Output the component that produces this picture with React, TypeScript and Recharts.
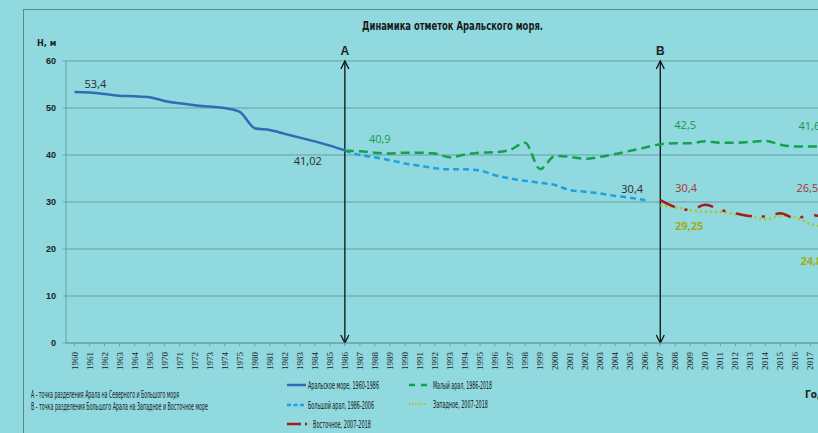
// Aral sea level dynamics

import React from "react";
import {
  LineChart,
  Line,
  XAxis,
  YAxis,
  CartesianGrid,
  ReferenceLine,
  ReferenceDot,
} from "recharts";

const years: string[] = [
  "1960", "1961", "1962", "1963", "1964", "1965",
  "1970", "1971", "1972", "1973", "1974", "1975",
  "1980", "1981", "1982", "1983", "1984", "1985", "1986",
  "1987", "1988", "1989", "1990", "1991", "1992", "1993", "1994", "1995", "1996",
  "1997", "1998", "1999", "2000", "2001", "2002", "2003", "2004", "2005", "2006",
  "2007", "2008", "2009", "2010", "2011", "2012", "2013", "2014", "2015", "2016",
  "2017", "2018",
];

// Аральское море, 1960-1986
const aralSea: number[] = [
  53.4, 53.3, 53.0, 52.6, 52.5, 52.3, 51.5, 51.0, 50.6, 50.3, 50.0, 49.2,
  45.7, 45.3, 44.5, 43.7, 42.9, 42.0, 41.02,
];

// Малый арал, 1986-2018
const smallAral: number[] = [
  40.9, 40.8, 40.5, 40.3, 40.5, 40.5, 40.3, 39.5, 40.1, 40.5, 40.6,
  41.1, 42.6, 37.0, 39.8, 39.6, 39.2, 39.6, 40.2, 40.9, 41.6,
  42.3, 42.5, 42.5, 42.9, 42.6, 42.6, 42.8, 43.0, 42.2, 41.8,
  41.8, 42.0,
];

// Большой арал, 1986-2006
const bigAral: number[] = [
  40.9, 40.0, 39.5, 38.9, 38.2, 37.7, 37.2, 36.95, 36.95, 36.7, 35.7,
  35.0, 34.5, 34.1, 33.6, 32.5, 32.2, 31.8, 31.3, 30.9, 30.4,
];

// Западное, 2007-2018
const westSea: number[] = [29.25, 28.9, 28.3, 27.9, 27.9, 27.4, 27.0, 26.3, 27.1, 26.7, 25.3, 24.8];

// Восточное, 2007-2018
const eastSea: number[] = [30.4, 28.9, 28.3, 29.4, 28.3, 27.6, 27.0, 26.9, 27.6, 26.5, 27.2, 26.8];

const yTicks = [0, 10, 20, 30, 40, 50, 60];

const BG = "#8fd9df";
const GRID = "#6a9ea6";
const C_ARAL = "#2f6cb3";
const C_SMALL = "#15a04c";
const C_BIG = "#1d9fe0";
const C_WEST = "#b7c01c";
const C_EAST = "#a31b1b";
const NARROW = "'Liberation Sans Narrow', 'DejaVu Sans Condensed', 'Liberation Sans', sans-serif";

const withStart = (start: string, vals: number[]) => {
  const i0 = years.indexOf(start);
  return (i: number) => (i >= i0 && i < i0 + vals.length ? vals[i - i0] : null);
};

const getAral = withStart("1960", aralSea);
const getSmall = withStart("1986", smallAral);
const getBig = withStart("1986", bigAral);
const getWest = withStart("2007", westSea);
const getEast = withStart("2007", eastSea);

const tableData = years.map((y, i) => ({
  year: y,
  aral: getAral(i),
  small: getSmall(i),
  big: getBig(i),
  west: getWest(i),
  east: getEast(i),
}));

const YearTick = (props: any) => {
  const { x, y, payload } = props;
  return (
    <text
      transform={`translate(${x + 3},${y + 4}) rotate(-90)`}
      textAnchor="end"
      fontSize={9}
      fontFamily="'Liberation Serif', 'DejaVu Serif', serif"
      fill="#222"
    >
      {payload.value}
    </text>
  );
};

const ArrowMark = (props: any) => {
  const { viewBox, letter } = props;
  if (!viewBox) return null;
  const { x, y, height } = viewBox;
  const b = y + height;
  return (
    <g>
      <polyline points={`${x - 4},${y + 8} ${x},${y} ${x + 4},${y + 8}`} fill="none" stroke="#111" strokeWidth={1.3} />
      <polyline points={`${x - 4},${b - 8} ${x},${b} ${x + 4},${b - 8}`} fill="none" stroke="#111" strokeWidth={1.3} />
      <text x={x} y={y - 6} textAnchor="middle" fontSize={12} fontWeight="bold" fontFamily="'Liberation Sans', sans-serif" fill="#222">
        {letter}
      </text>
    </g>
  );
};

const ValueLabel = (props: any) => {
  const { viewBox, text, dx, dy, color, bold } = props;
  if (!viewBox) return null;
  return (
    <text
      x={viewBox.x + dx}
      y={viewBox.y + dy}
      textAnchor="middle"
      dominantBaseline="central"
      fontSize={11}
      fontWeight={bold ? "bold" : "normal"}
      fontFamily="'Open Sans', 'Liberation Sans', sans-serif"
      fill={color}
    >
      {text}
    </text>
  );
};

const valueLabels = [
  { x: "1961", y: 53.3, text: "53,4", dx: 6, dy: -9, color: "#2a2a2a" },
  { x: "1986", y: 41.02, text: "41,02", dx: -37, dy: 10, color: "#2a2a2a" },
  { x: "1986", y: 40.9, text: "40,9", dx: 35, dy: -12, color: "#17994a" },
  { x: "2006", y: 30.4, text: "30,4", dx: -13, dy: -12, color: "#2a2a2a" },
  { x: "2008", y: 42.5, text: "42,5", dx: 10, dy: -19, color: "#17994a" },
  { x: "2017", y: 41.8, text: "41,6", dx: -1, dy: -21, color: "#17994a" },
  { x: "2007", y: 30.4, text: "30,4", dx: 26, dy: -13, color: "#b03232" },
  { x: "2016", y: 26.5, text: "26,5", dx: 12, dy: -31, color: "#b03232" },
  { x: "2007", y: 29.25, text: "29,25", dx: 29, dy: 20, color: "#a4ad14", bold: true },
  { x: "2018", y: 24.8, text: "24,8", dx: -14, dy: 34, color: "#a4ad14", bold: true },
];

const LegendOverlay = () => (
  <svg width={818} height={433} style={{ position: "absolute", left: 0, top: 0, pointerEvents: "none" }}>
    <text x={362} y={30} fontSize={11.5} fontWeight="bold" fontFamily={NARROW} fill="#1a1a1a" textLength={181} lengthAdjust="spacingAndGlyphs">
      Динамика  отметок Аральского моря.
    </text>
    <text x={37} y={46} fontSize={9} fontWeight="bold" fontFamily={NARROW} fill="#222">
      Н, м
    </text>

    <text x={31} y={398} fontSize={10} fontFamily={NARROW} fill="#1a1a1a" textLength={148} lengthAdjust="spacingAndGlyphs">
      А - точка разделения Арала на Северного и Большого моря
    </text>
    <text x={31} y={410} fontSize={10} fontFamily={NARROW} fill="#1a1a1a" textLength={177} lengthAdjust="spacingAndGlyphs">
      В - точка разделения Большого Арала на Западное и Восточное море
    </text>

    <line x1={287} y1={385} x2={306} y2={385} stroke={C_ARAL} strokeWidth={2.5} />
    <text x={308} y={388.5} fontSize={10} fontFamily={NARROW} fill="#1a1a1a" textLength={71} lengthAdjust="spacingAndGlyphs">
      Аральское море, 1960-1986
    </text>

    <line x1={287} y1={405} x2={306} y2={405} stroke={C_BIG} strokeWidth={2.5} strokeDasharray="4 2.5" />
    <text x={308} y={408.5} fontSize={10} fontFamily={NARROW} fill="#1a1a1a" textLength={66} lengthAdjust="spacingAndGlyphs">
      Большой арал, 1986-2006
    </text>

    <line x1={287} y1={424} x2={301} y2={424} stroke={C_EAST} strokeWidth={2.5} />
    <line x1={305} y1={424} x2={307} y2={424} stroke={C_EAST} strokeWidth={2.5} />
    <text x={313} y={427.5} fontSize={10} fontFamily={NARROW} fill="#1a1a1a" textLength={58} lengthAdjust="spacingAndGlyphs">
      Восточное, 2007-2018
    </text>

    <line x1={409} y1={385} x2={428} y2={385} stroke={C_SMALL} strokeWidth={2.5} strokeDasharray="6 6" />
    <text x={433} y={388.5} fontSize={10} fontFamily={NARROW} fill="#1a1a1a" textLength={59} lengthAdjust="spacingAndGlyphs">
      Малый арал, 1986-2018
    </text>

    <line x1={409} y1={404} x2={427} y2={404} stroke={C_WEST} strokeWidth={2} strokeDasharray="1.5 1.5" />
    <text x={433} y={407.5} fontSize={10} fontFamily={NARROW} fill="#1a1a1a" textLength={55} lengthAdjust="spacingAndGlyphs">
      Западное, 2007-2018
    </text>

    <text x={805} y={398} fontSize={10} fontWeight="bold" fontFamily={NARROW} fill="#222">
      Годы
    </text>
  </svg>
);

const App: React.FC = () => {
  return (
    <div
      style={{
        position: "absolute",
        left: 0,
        top: 0,
        width: 818,
        height: 433,
        overflow: "hidden",
        background: BG,
      }}
    >
      <div
        style={{
          position: "absolute",
          left: 23,
          top: 9,
          width: 900,
          height: 500,
          border: "1.5px solid #5d858c",
        }}
      />
      <div style={{ position: "absolute", left: 0, top: 0 }}>
        <LineChart
          width={850}
          height={433}
          data={tableData}
          margin={{ top: 61, right: 18, bottom: 60, left: 26 }}
        >
          <CartesianGrid vertical={false} stroke={GRID} strokeWidth={1.2} />
          <XAxis
            dataKey="year"
            interval={0}
            height={30}
            padding={{ left: 8.5, right: 6.5 }}
            tick={<YearTick />}
            tickSize={3}
            stroke={GRID}
          />
          <YAxis
            domain={[0, 60]}
            ticks={yTicks}
            width={40}
            tickSize={3}
            tickMargin={7}
            stroke={GRID}
            tick={{ fontSize: 9, fontWeight: "bold", fill: "#222", fontFamily: "'Liberation Sans', sans-serif" }}
          />
          <ReferenceLine x="1986" stroke="#111" strokeWidth={1.3} label={<ArrowMark letter="A" />} />
          <ReferenceLine x="2007" stroke="#111" strokeWidth={1.3} label={<ArrowMark letter="B" />} />
          <Line
            dataKey="big"
            type="monotone"
            stroke={C_BIG}
            strokeWidth={2.5}
            strokeDasharray="6 4"
            dot={false}
            isAnimationActive={false}
          />
          <Line
            dataKey="small"
            type="monotone"
            stroke={C_SMALL}
            strokeWidth={2.5}
            strokeDasharray="9 5"
            dot={false}
            isAnimationActive={false}
          />
          <Line
            dataKey="west"
            type="monotone"
            stroke={C_WEST}
            strokeWidth={2.5}
            strokeDasharray="2 3"
            dot={false}
            isAnimationActive={false}
          />
          <Line
            dataKey="east"
            type="monotone"
            stroke={C_EAST}
            strokeWidth={2.5}
            strokeDasharray="16 10 3 11"
            dot={false}
            isAnimationActive={false}
          />
          <Line
            dataKey="aral"
            type="monotone"
            stroke={C_ARAL}
            strokeWidth={2.5}
            dot={false}
            isAnimationActive={false}
          />
          {valueLabels.map((l, i) => (
            <ReferenceDot
              key={i}
              x={l.x}
              y={l.y}
              r={0.1}
              fill="none"
              stroke="none"
              label={<ValueLabel text={l.text} dx={l.dx} dy={l.dy} color={l.color} bold={l.bold} />}
            />
          ))}
        </LineChart>
      </div>
      <LegendOverlay />
    </div>
  );
};

export default App;
